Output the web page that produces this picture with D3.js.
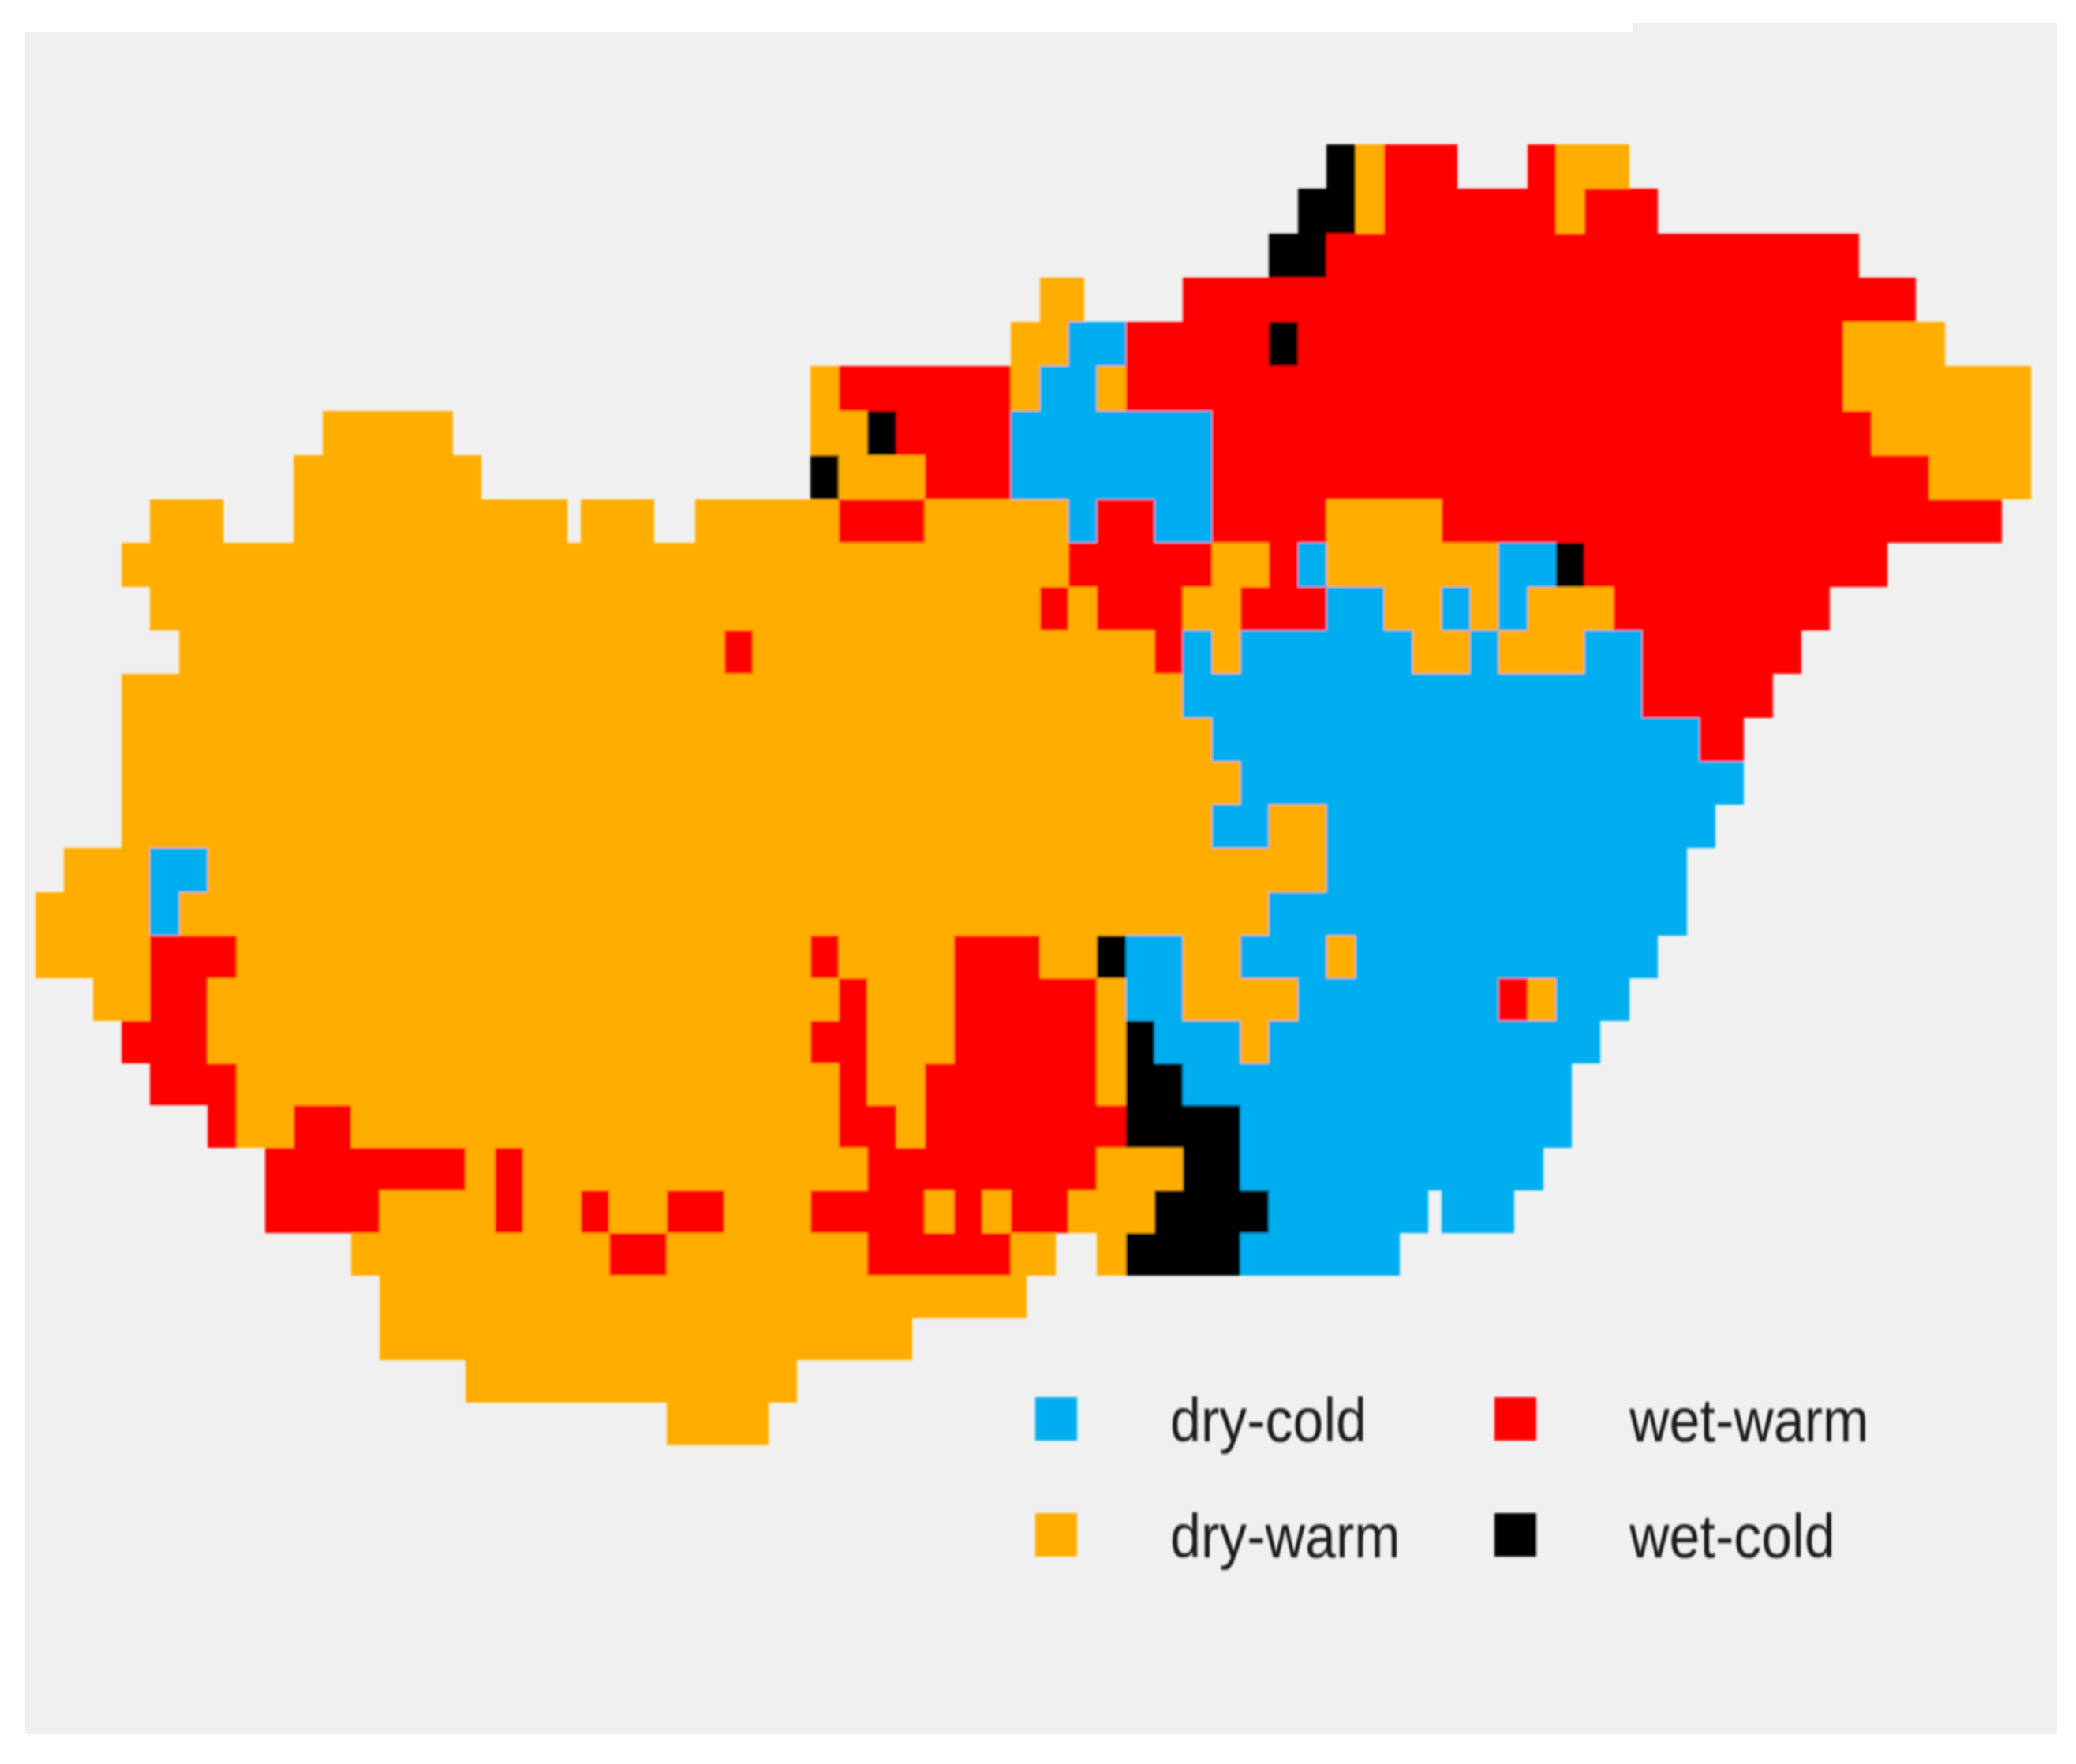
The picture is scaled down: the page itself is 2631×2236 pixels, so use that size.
<!DOCTYPE html>
<html>
<head>
<meta charset="utf-8">
<script src="https://cdn.jsdelivr.net/npm/d3@7"></script>
<style>
html,body{margin:0;padding:0;background:#fff;}
svg{display:block;}
text{font-family:"Liberation Sans",Arial,sans-serif;}
</style>
</head>
<body>
<div id="chart"></div>
<script>
const categories = ["dry-cold", "dry-warm", "wet-warm", "wet-cold"];
const categoryCodes = ["b", "o", "r", "k"];
const categoryColors = ["#00ADEE", "#FFAD00", "#FF0000", "#000000"];
const columnCount = 69;
const rowCount = 30;

// Climate class of the grid cells, one line per row (north to south),
// as class code + first column - last column.
const rowCells = [
  "k45 o46 r47-48 r52 o53-54",
  "k44-45 o46 r47-52 o53 r54-55",
  "k43-44 r45-62",
  "o35 r40-64",
  "o34-35 b36-37 r38-42 k43 r44-62 o63-65",
  "o27 r28-33 o34 b35-36 o37 r38-62 o63-68",
  "o10-13 o27-28 k29 r30-33 b34-40 r41-63 o64-68",
  "o9-14 k27 o28-30 r31-33 b34-40 r41-65 o66-68",
  "o4-5 o9-17 o19-20 o23-27 r28-30 o31-35 b36 r37-38 b39-40 r41-44 o45-48 r49-67",
  "o3-35 r36-40 o41-42 r43 b44 o45-50 b51-52 k53 r54-63",
  "o4-34 r35 o36 r37-39 o40-41 r42-44 b45-46 o47-48 b49 o50 b51 o52-54 r55-61",
  "o5-23 r24 o25-38 r39 b40 o41 b42-47 o48-49 b50 o51-53 b54-55 r56-60",
  "o3-39 b40-55 r56-59",
  "o3-40 b41-57 r58",
  "o3-41 b42-58",
  "o3-40 b41-42 o43-44 b45-57",
  "o1-3 b4-5 o6-44 b45-56",
  "o0-3 b4 o5-42 b43-56",
  "o0-3 r4-6 o7-26 r27 o28-31 r32-34 o35-36 k37 b38-39 o40-41 b42-44 o45 b46-55",
  "o2-3 r4-5 o6-27 r28 o29-31 r32-36 o37 b38-39 o40-43 b44-50 r51 o52 b53-54",
  "r3-5 o6-26 r27-28 o29-31 r32-36 o37 k38 b39-41 o42 b43-53",
  "r4-6 o7-27 r28 o29-30 r31-36 o37 k38-39 b40-52",
  "r6 o7-8 r9-10 o11-27 r28-29 o30 r31-37 k38-41 b42-52",
  "r8-14 o15 r16 o17-28 r29-36 o37-39 k40-41 b42-51",
  "r8-11 o12-15 r16 o17-18 r19 o20-21 r22-23 o24-26 r27-30 o31 r32 o33 r34-35 o36-38 k39-42 b43-47 b49-50",
  "o11-19 r20-21 o22-28 r29-33 o34 o37 k38-41 b42-46",
  "o12-33",
  "o12-29",
  "o15-25",
  "o22-24"
];

const width = 2631, height = 2236;
const cellOverlap = 1.55;   // each tile is wider than the column spacing
const x = d3.scaleLinear().domain([0, columnCount]).range([45, 45 + columnCount * 36.36]);
const y = d3.scaleLinear().domain([0, 8, 18, rowCount]).range([183, 633, 1186, 1832]);
const color = d3.scaleOrdinal().domain(categoryCodes).range(categoryColors);

const cells = [];
rowCells.forEach((line, row) => {
  line.split(" ").forEach(run => {
    const code = run[0];
    const [a, b] = run.slice(1).split("-").map(Number);
    for (let col = a; col <= (b === undefined ? a : b); col++) cells.push({row, col, code});
  });
});
cells.sort((p, q) => d3.ascending(p.col, q.col));

const svg = d3.select("#chart").append("svg")
  .attr("width", width).attr("height", height)
  .attr("viewBox", [0, 0, width, height]);

const defs = svg.append("defs");
[["soft", 1.6], ["softText", 1.3]].forEach(([id, sd]) => {
  defs.append("filter").attr("id", id)
    .attr("filterUnits", "userSpaceOnUse")
    .attr("x", -3000).attr("y", -3000).attr("width", 9000).attr("height", 9000)
    .append("feGaussianBlur").attr("stdDeviation", sd);
});

// panel background, with the small step along its top edge
svg.append("path")
  .attr("fill", "#F0F0F0")
  .attr("d", "M32,41H2070V29H2607V2198H32Z");

const map = svg.append("g").attr("filter", "url(#soft)");
map.selectAll("rect").data(cells).join("rect")
  .attr("x", d => x(d.col))
  .attr("y", d => y(d.row))
  .attr("width", x(cellOverlap) - x(0))
  .attr("height", d => y(d.row + 1) - y(d.row))
  .attr("fill", d => color(d.code))
  .attr("shape-rendering", "crispEdges");

// legend: two columns, two rows
const legendOrder = [
  {cat: 0, c: 0, r: 0}, {cat: 1, c: 0, r: 1},
  {cat: 2, c: 1, r: 0}, {cat: 3, c: 1, r: 1}
];
const legendX = d3.scalePoint().domain([0, 1]).range([1312, 1894]);
const legendY = d3.scalePoint().domain([0, 1]).range([1771, 1918]);
const legend = svg.append("g");
const entry = legend.selectAll("g").data(legendOrder).join("g")
  .attr("transform", d => `translate(${legendX(d.c)},${legendY(d.r)})`);
entry.append("rect")
  .attr("width", 53).attr("height", 55)
  .attr("fill", d => categoryColors[d.cat])
  .attr("filter", "url(#soft)");
entry.append("text")
  .attr("transform", "translate(171,56) scale(1,1.1)")
  .attr("font-size", 70)
  .attr("fill", "#1a1a1a")
  .attr("filter", "url(#softText)")
  .text(d => categories[d.cat]);
</script>
</body>
</html>
